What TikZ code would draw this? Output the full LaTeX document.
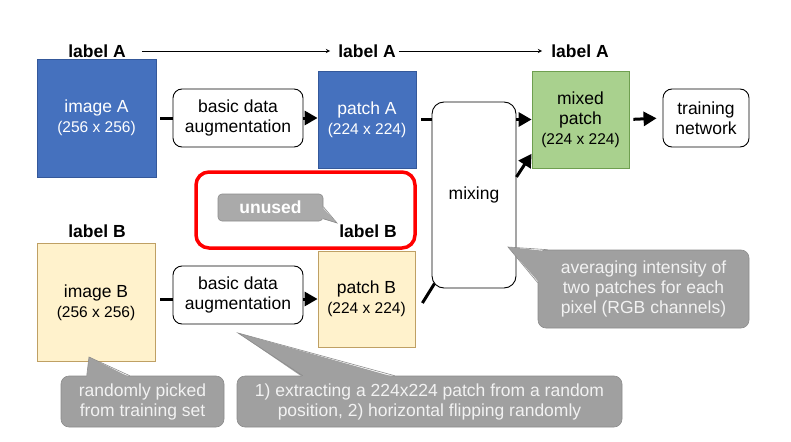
\documentclass[tikz,border=0pt]{standalone}
\usepackage{fontspec}
\setmainfont{Liberation Sans}
\usetikzlibrary{calc, arrows.meta}

\definecolor{blueA}{HTML}{4571BE}
\definecolor{blueline}{HTML}{34589A}
\definecolor{yellowB}{HTML}{FFF2CC}
\definecolor{yellowline}{HTML}{BFA064}
\definecolor{greenM}{HTML}{A9D18E}
\definecolor{greenline}{HTML}{6F9F50}
\definecolor{callgray}{HTML}{A0A0A0}
\definecolor{callline}{HTML}{8C8C8C}
\definecolor{calltext}{HTML}{F2F2F2}
\definecolor{redmark}{HTML}{FF0000}

\tikzset{
  lab/.style={font=\fontsize{17.5}{20}\selectfont\bfseries, inner sep=0pt},
  imgblue/.style={draw=blueline, fill=blueA, text=white, align=center, inner sep=0pt, line width=0.8pt},
  imgyellow/.style={draw=yellowline, fill=yellowB, align=center, inner sep=0pt, line width=0.8pt},
  imggreen/.style={draw=greenline, fill=greenM, align=center, inner sep=0pt, line width=0.8pt},
  procbox/.style={draw, fill=white, rounded corners=9pt, align=center, inner sep=0pt, line width=0.9pt},
  callout/.style={draw=callline, fill=callgray, text=calltext, rounded corners=8pt, align=center, inner sep=0pt, line width=0.6pt},
  conn/.style={line width=3pt},
  connarr/.style={line width=3pt, -{Triangle[length=13pt, width=14pt]}},
}
\newcommand{\dimtext}[1]{{\fontsize{15.5}{18}\selectfont #1}}

\begin{document}
\begin{tikzpicture}[x=1pt, y=-1pt, >=stealth, font=\fontsize{17.5}{20}\selectfont]
  \useasboundingbox (0,0) rectangle (791,441);

  % Nhãn phía trên
  \node[lab] (labA1) at (97,51) {label A};
  \node[lab] (labA2) at (367,51) {label A};
  \node[lab] (labA3) at (580,51) {label A};
  \draw[->, line width=0.9pt, shorten <=16pt, shorten >=8pt] (labA1) -- (labA2);
  \draw[->, line width=0.9pt, shorten <=3pt, shorten >=9pt] (labA2) -- (labA3);

  % Hàng ảnh A
  \node[imgblue, minimum width=119pt, minimum height=118pt] (imgA) at (96.5,118) {image A\\\dimtext{(256 x 256)}};
  \node[procbox, minimum width=130pt, minimum height=58pt] (augA) at (238,118) {basic data\\augmentation};
  \node[imgblue, minimum width=98pt, minimum height=97pt] (patchA) at (367,119.5) {patch A\\\dimtext{(224 x 224)}};

  % Trộn và mạng
  \node[procbox, rounded corners=12pt, minimum width=84pt, minimum height=186pt] (mixing) at (474,195) {mixing};
  \node[imggreen, minimum width=97pt, minimum height=97pt] (mixed) at (580.5,119.5) {mixed\\patch\\\dimtext{(224 x 224)}};
  \node[procbox, minimum width=86pt, minimum height=58pt] (train) at (706,118) {training\\network};

  % Hàng ảnh B
  \node[lab] (labB1) at (97,231) {label B};
  \node[imgyellow, minimum width=118pt, minimum height=118pt] (imgB) at (96,302.5) {image B\\\dimtext{(256 x 256)}};
  \node[procbox, minimum width=130pt, minimum height=58pt] (augB) at (238,295) {basic data\\augmentation};
  \node[imgyellow, minimum width=97pt, minimum height=96pt] (patchB) at (366.5,299) {patch B\\\dimtext{(224 x 224)}};

  % Các mũi tên dày
  \draw[conn, shorten <=4pt] (imgA.east) -- (augA.west);
  \draw[connarr] (augA.east) -- (augA.east -| patchA.west);
  \draw[conn, shorten <=5pt] (patchA.east) -- (patchA.east -| mixing.west);
  \draw[connarr] (mixing.east |- mixed.west) -- (mixed.west);
  \draw[connarr] (mixing.23) -- (mixed.215);
  \draw[connarr, shorten <=4pt, shorten >=6pt] (mixed.east) -- (train.west);
  \draw[conn, shorten <=5pt] (imgB.east |- patchB.west) -- (augB.west |- patchB.west);
  \draw[connarr] (augB.east |- patchB.west) -- (patchB.west);
  \draw[conn] ($(patchB.east)+(7,4)$) -- ($(mixing.south west)+(3,-5)$);

  % Khung đỏ
  \draw[redmark, line width=3.5pt, rounded corners=13pt] (196,172) rectangle (415,248);
  \node[lab] (labB2) at (368,231) {label B};
  \node[callout, fill=callgray!90, text=white, font=\fontsize{17.5}{20}\selectfont\bfseries, rounded corners=4pt, minimum width=105pt, minimum height=27pt] (noteUnused) at (270.5,207.5) {unused};
  \coordinate (tipUnused) at (337,223);
  \fill[callgray!90] ($(noteUnused.north east)+(-1.5,13)$) -- (tipUnused) -- ($(noteUnused.north east)+(-1.5,25)$) -- cycle;
  \draw[callline, line width=0.6pt] ($(noteUnused.north east)+(0,13)$) -- (tipUnused) -- ($(noteUnused.north east)+(0,25)$);

  % Chú thích xám
  \node[callout, minimum width=211pt, minimum height=78pt] (noteAvg) at (643.5,289) {averaging intensity of\\two patches for each\\pixel (RGB channels)};
  \coordinate (tipAvg) at (508,247);
  \fill[callgray] ($(noteAvg.north west)+(10,1.5)$) -- (tipAvg) -- ($(noteAvg.north west)+(1.5,33)$) -- cycle;
  \draw[callline, line width=0.6pt] ($(noteAvg.north west)+(10,0)$) -- (tipAvg) -- ($(noteAvg.north west)+(0,33)$);

  \node[callout, minimum width=163pt, minimum height=51pt] (noteRand) at (142.5,401.5) {randomly picked\\from training set};
  \coordinate (tipRand) at (89,357);
  \fill[callgray] ($(noteRand.north west)+(26,1.5)$) -- (tipRand) -- ($(noteRand.north west)+(69,1.5)$) -- cycle;
  \draw[callline, line width=0.6pt] ($(noteRand.north west)+(26,0)$) -- (tipRand) -- ($(noteRand.north west)+(69,0)$);

  \node[callout, minimum width=385pt, minimum height=51pt] (noteExt) at (429.5,401.5) {1) extracting a 224x224 patch from a random\\position, 2) horizontal flipping randomly};
  \coordinate (tipExt) at (238,333);
  \fill[callgray] ($(noteExt.north west)+(66,1.5)$) -- (tipExt) -- ($(noteExt.north west)+(158,1.5)$) -- cycle;
  \draw[callline, line width=0.6pt] ($(noteExt.north west)+(66,0)$) -- (tipExt) -- ($(noteExt.north west)+(158,0)$);
\end{tikzpicture}
\end{document}
